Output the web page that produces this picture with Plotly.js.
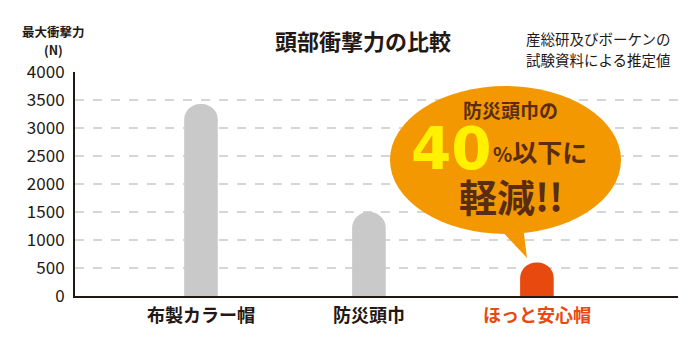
<!DOCTYPE html>
<html>
<head>
<meta charset="utf-8">
<script src="https://cdn.plot.ly/plotly-3.0.1.min.js"></script>
<style>html,body{margin:0;padding:0;background:#fff;}#chart{width:694px;height:346px;}</style>
</head>
<body>
<div id="chart"></div>
<script>
const categories = ["布製カラー帽", "防災頭巾", "ほっと安心帽"];
const impactForce = [3430, 1500, 600];
const barColors = ["#c9c9c9", "#c9c9c9", "#e8490f"];
const labelColors = ["#231815", "#231815", "#e8490f"];
const yTicks = [0, 500, 1000, 1500, 2000, 2500, 3000, 3500, 4000];

const FONT = "Noto Sans CJK JP, Noto Sans, sans-serif";
const L = 75, R = 678, T = 72, B = 296;
const px = x => (x - L) / (R - L);
const py = y => (B - y) / (B - T);

const trace = {
  type: "bar",
  x: [0, 1, 2],
  y: impactForce,
  width: 0.2,
  marker: { color: barColors, cornerradius: 17, line: { width: 0 } },
  hoverinfo: "skip"
};

function ann(text, x, y, size, color, anchor, extra, family) {
  return Object.assign({ text: text, xref: "paper", yref: "paper", x: px(x), y: py(y),
    xanchor: anchor || "center", yanchor: "middle", showarrow: false, align: "center",
    font: { size: size, family: family || FONT, color: color || "#231815" } }, extra || {});
}

const layout = {
  width: 694, height: 346,
  margin: { l: L, r: 694 - R, t: T, b: 346 - B },
  paper_bgcolor: "#fff", plot_bgcolor: "#fff",
  showlegend: false,
  font: { family: FONT, color: "#231815" },
  xaxis: {
    range: [-0.75, 2.84],
    tickmode: "array",
    tickvals: [0, 1, 2],
    ticktext: categories.map((c, i) => `<b><span style="color:${labelColors[i]}">${c}</span></b>`),
    tickfont: { size: 18, family: FONT, color: "#231815" },
    showgrid: false, zeroline: false,
    showline: true, linecolor: "#231815", linewidth: 2,
    ticks: "", ticklabelstandoff: 2, fixedrange: true
  },
  yaxis: {
    range: [0, 4000],
    tickmode: "array",
    tickvals: yTicks,
    ticktext: yTicks.map(String),
    tickfont: { size: 17, family: FONT, color: "#231815" },
    showgrid: true, gridcolor: "#d6d6d6", griddash: "dash", gridwidth: 1.3,
    zeroline: false,
    showline: true, linecolor: "#231815", linewidth: 2,
    ticks: "", ticklabelstandoff: 5, fixedrange: true
  },
  shapes: [
    { type: "path", xref: "paper", yref: "paper",
      path: `M ${px(497)} ${py(226)} L ${px(527)} ${py(258)} L ${px(523)} ${py(226)} Z`,
      fillcolor: "#f39800", line: { width: 0 } },
    { type: "circle", xref: "paper", yref: "paper",
      x0: px(390), x1: px(621), y0: py(86), y1: py(234),
      fillcolor: "#f39800", line: { width: 0 } }
  ],
  annotations: [
    ann("<b>頭部衝撃力の比較</b>", 363, 40, 22),
    ann("<b>最大衝撃力</b>", 53, 32, 12.5),
    ann("<b>(N)</b>", 53, 50, 12.5),
    ann("産総研及びボーケンの", 673, 38, 14.5, null, "right"),
    ann("試験資料による推定値", 673, 59, 14.5, null, "right"),
    ann("<b>防災頭巾の</b>", 510, 110, 19, "#5a2d12"),
    ann('<b>40</b>', 451, 149, 58, "#fff100", "center", null, "DejaVu Sans, sans-serif"),
    ann('<b><span style="font-size:20px">%</span>以下に</b>', 491, 151, 25, "#5a2d12", "left"),
    ann("<b>軽減!!</b>", 511, 195, 38, "#5a2d12")
  ]
};

Plotly.newPlot("chart", [trace], layout, { displayModeBar: false, staticPlot: true });
</script>
</body>
</html>
